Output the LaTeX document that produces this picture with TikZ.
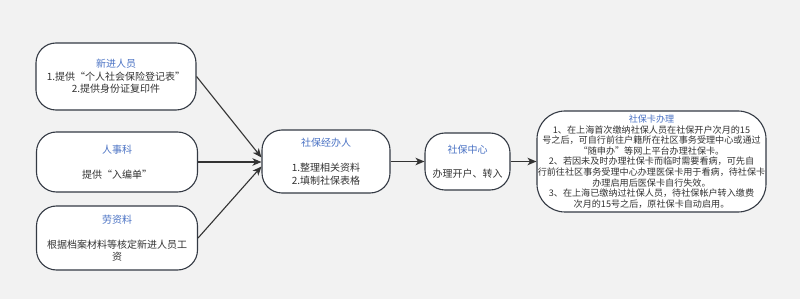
\documentclass[tikz,border=0pt]{standalone}
\usepackage{fontspec}
\setmainfont{Noto Sans CJK SC}
\usetikzlibrary{arrows.meta}
\begin{document}
\begin{tikzpicture}[x=1pt, y=-1pt,
  blocco/.style={draw=bordo, fill=white, line width=1.1pt, rounded corners=20pt, align=center, text=testo, inner sep=0pt, font=\fontsize{10}{12.5}\selectfont},
  freccia/.style={draw=linea, line width=1.1pt, -{Stealth[length=9pt, width=7.5pt, inset=2.5pt]}}
    ]
    % Colori
    \definecolor{sfondo}{RGB}{242, 242, 242}
    \definecolor{bordo}{RGB}{52, 58, 68}
    \definecolor{testo}{RGB}{51, 51, 51}
    \definecolor{titolo}{RGB}{74, 114, 196}
    \definecolor{linea}{RGB}{51, 51, 51}

    \fill[sfondo] (0,0) rectangle (800,299);
    \useasboundingbox (0,0) rectangle (800,299);

    % Blocchi a sinistra
    \node[blocco, minimum width=160pt, minimum height=67pt] (nuovi) at (116,76.5)
      {{\color{titolo}新进人员}\\1.提供“个人社会保险登记表”\\2.提供身份证复印件};
    \node[blocco, minimum width=161pt, minimum height=60pt] (personale) at (117,162)
      {{\color{titolo}人事科}\\[12.5pt]提供“入编单”};
    \node[blocco, minimum width=161pt, minimum height=64pt] (salari) at (117,238)
      {{\color{titolo}劳资料}\\[12.5pt]根据档案材料等核定新进人员工\\资};

    % Blocchi a destra
    \node[blocco, minimum width=128pt, minimum height=63pt] (addetto) at (326,161.5)
      {{\color{titolo}社保经办人}\\[12.5pt]1.整理相关资料\\2.填制社保表格};
    \node[blocco, minimum width=85pt, minimum height=57pt] (centro) at (467.5,161.5)
      {{\color{titolo}社保中心}\\[12pt]办理开户、转入};
    \node[blocco, minimum width=229pt, minimum height=101pt, rounded corners=28pt,
      font=\fontsize{9.1}{10.6}\selectfont] (tessera) at (651.5,161.5)
      {{\color{titolo}社保卡办理}\\
       1、在上海首次缴纳社保人员在社保开户次月的15\\
       号之后，可自行前往户籍所在社区事务受理中心或通过\\
       “随申办”等网上平台办理社保卡。\\
       2、若因未及时办理社保卡而临时需要看病，可先自\\
       行前往社区事务受理中心办理医保卡用于看病，待社保卡\\
       办理启用后医保卡自行失效。\\
       3、在上海已缴纳过社保人员，待社保帐户转入缴费\\
       次月的15号之后，原社保卡自动启用。};

    % Frecce
    \coordinate (ingresso1) at ([yshift=4pt]addetto.west);
    \coordinate (ingresso3) at ([yshift=-5pt]addetto.west);
    \draw[freccia] (nuovi.east) -- (ingresso1);
    \draw[freccia] (personale.east) -- (personale.east -| addetto.west);
    \draw[freccia] (salari.east) -- (ingresso3);
    \draw[freccia] (addetto.east) -- (centro.west);
    \draw[freccia] (centro.east) -- (tessera.west);
    \end{tikzpicture}
\end{document}
